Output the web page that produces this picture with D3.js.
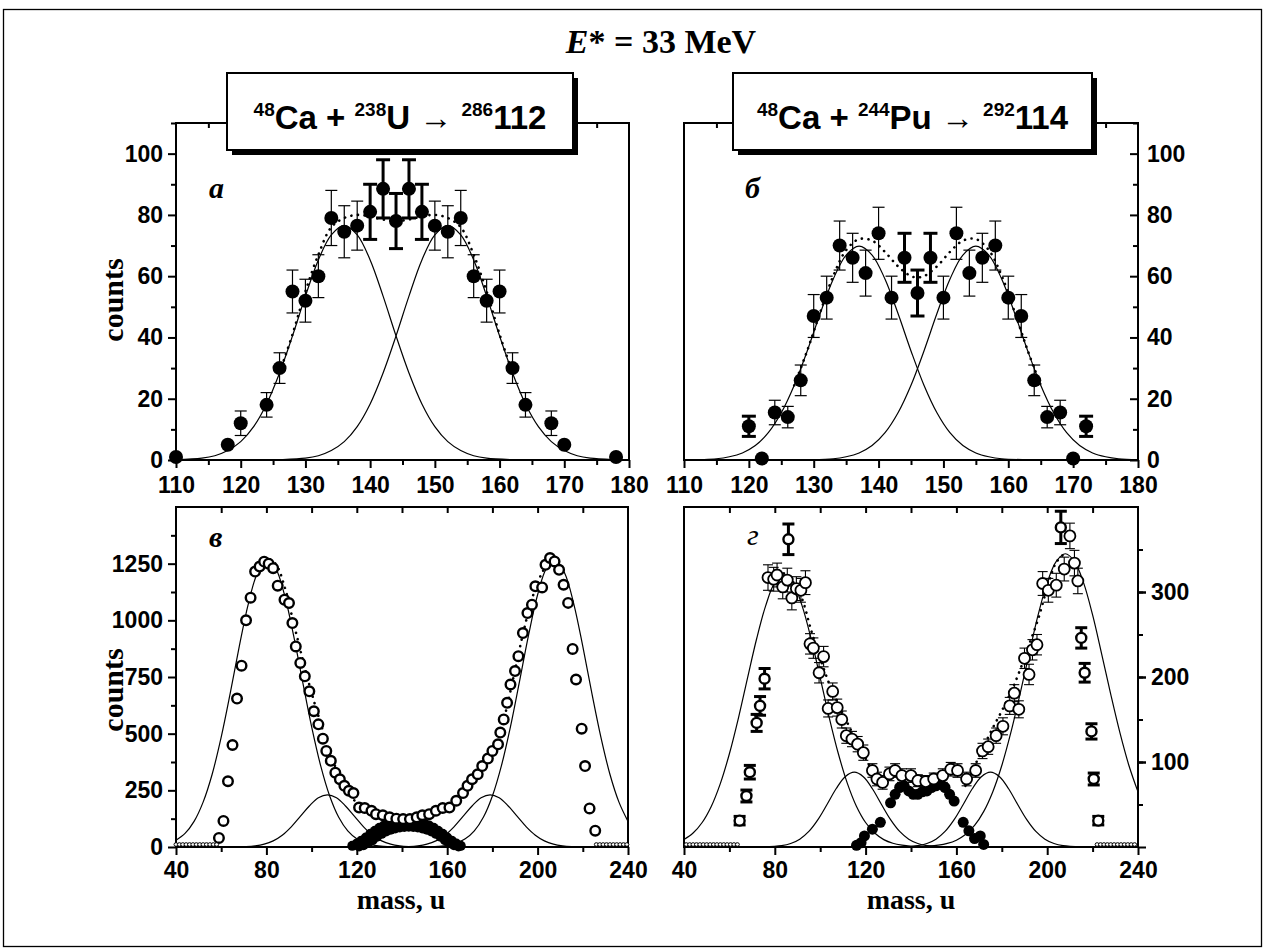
<!DOCTYPE html>
<html><head><meta charset="utf-8">
<script src="https://cdn.jsdelivr.net/npm/d3@7"></script>
<style>body{margin:0;background:#fff}</style>
</head><body>
<svg id="chart" width="1265" height="951"></svg>
<script>
// ---------------- DATA ----------------
const titleText = "E* = 33 MeV";
const reactionA = [["48","Ca + "],["238","U \u2192 "],["286","112"]];
const reactionB = [["48","Ca + "],["244","Pu \u2192 "],["292","114"]];
const panelLetters = ["а","б","в","г"];
const yLabel = "counts", xLabel = "mass, u";

const topXTicks = [110,120,130,140,150,160,170,180];
const topYTicks = [0,20,40,60,80,100];
const botXTicks = [40,80,120,160,200,240];
const cYTicks = [0,250,500,750,1000,1250];
const dYTicks = [100,200,300];

// panel a : [mass, counts, error]
const aSet1 = [[110,1,0],[118,5,0],[120,12,4],[124,18,4],[126,30,5],[128,55,7],[130,52,7],[132,60,7],[134,79,9],[136,74.5,8.5],[138,76.5,8],[150,76.5,8],[152,74.5,8.5],[154,79,9],[156,60,7],[158,52,7],[160,55,7],[162,30,5],[164,18,4],[168,12,4],[170,5,0],[178,1,0]];
const aSet2 = [[140,81,9],[142,88.5,9.5],[144,78,9],[146,88.5,9.5],[148,81,9]];
const aFitLeft = [[110,0.1],[114,0.6],[116,1.4],[118,3.1],[120,6.0],[122,10.9],[124,18.3],[126,28.4],[128,40.5],[130,53.5],[132,65.3],[134,73.5],[136,76.5],[138,73.5],[140,65.3],[142,53.5],[144,40.5],[146,28.4],[148,18.3],[150,10.9],[152,6.0],[154,3.1],[156,1.4],[158,0.6],[162,0.1],[168,0]];
const aFitRight = [[124,0],[126,0.1],[130,0.6],[132,1.4],[134,3.1],[136,6.0],[138,10.9],[140,18.3],[142,28.4],[144,40.5],[146,53.5],[148,65.3],[150,73.5],[152,76.5],[154,73.5],[156,65.3],[158,53.5],[160,40.5],[162,28.4],[164,18.3],[166,10.9],[168,6.0],[170,3.1],[172,1.4],[174,0.6],[178,0.1],[180,0]];
const aFitSum = [[126,28.5],[128,41],[130,55],[132,67],[134,76],[136,79],[138,80],[140,79.5],[142,78.5],[144,78],[146,78.5],[148,79.5],[150,80],[152,79],[154,76],[156,67],[158,55],[160,41],[162,28.5]];

// panel b
const bSet1 = [[122,0.5,0],[124,15.5,4],[126,14,3.5],[128,26,5],[130,47,7],[132,53,7],[134,70,8],[136,66,8],[138,61,7.5],[140,74,8.5],[142,53,7],[150,53,7],[152,74,8.5],[154,61,7.5],[156,66,8],[158,70,8],[160,53,7],[162,47,7],[164,26,5],[166,14,3.5],[168,15.5,4],[170,0.5,0]];
const bSet2 = [[120,11,3.3],[144,66,8],[146,54.5,7.5],[148,66,8],[172,11,3.3]];
const bFitLeft = [[110,0],[115,0.4],[117,1.05],[119,2.3],[121,4.7],[123,8.9],[125,15.4],[127,24.4],[129,35.6],[131,47.8],[133,59.0],[135,66.9],[137,69.8],[139,66.9],[141,59.0],[143,47.8],[145,35.6],[147,24.4],[149,15.4],[151,8.9],[153,4.7],[155,2.3],[157,1.05],[159,0.4],[163,0.1],[170,0]];
const bFitRight = [[122,0],[129,0.1],[133,0.4],[135,1.05],[137,2.3],[139,4.7],[141,8.9],[143,15.4],[145,24.4],[147,35.6],[149,47.8],[151,59.0],[153,66.9],[155,69.8],[157,66.9],[159,59.0],[161,47.8],[163,35.6],[165,24.4],[167,15.4],[169,8.9],[171,4.7],[173,2.3],[175,1.05],[177,0.4],[180,0.1]];
const bFitSum = [[127,24.4],[129,35.7],[131,48.2],[133,60],[135,68.5],[137,72.1],[139,71.6],[141,67.9],[143,63.2],[145,60],[146,59.6],[147,60],[149,63.2],[151,67.9],[153,71.6],[155,72.1],[157,68.5],[159,60],[161,48.2],[163,35.7],[165,24.4]];

// panel c
const cOpen = [[59,40],[61,115],[63,290],[65,450],[67,655],[69,800],[71,1000],[73,1100],[75,1215],[77,1237],[79,1259],[81,1250],[83,1230],[85,1153],[88,1091],[90,1076],[91.5,988],[93,885],[95,812],[97,753],[99,687],[101,599],[103,541],[105,478],[106.5,424],[108.5,380],[110.5,328],[112.5,299],[114.5,270],[116.5,248],[118.5,238],[121,174],[123.5,172],[126.5,160],[128.5,145],[131.5,140],[134.5,131],[137.5,125],[140.5,123],[143.5,123],[146.5,131],[149,140],[152,145],[155,160],[158,172],[161,174],[164,204],[167,238],[169,270],[171,299],[173.5,321],[175.5,357],[178,390],[180,424],[182.5,453],[183.5,505],[185,563],[186.5,636],[188,717],[190,776],[191.5,842],[193.5,944],[195.5,1032],[197.5,1069],[199,1150],[202,1145],[203.5,1245],[205.5,1275],[207.5,1260],[209.5,1223],[211.5,1157],[213.5,1077],[215.5,874],[217,739],[219.5,522],[221,357],[223,170],[225.5,72]];
const cFilledUpper = [[118,5],[120,15],[122,28],[124,42],[126,58],[128,72],[130,85],[132,95],[134,103],[136,108],[138,112],[140,114],[142,115],[144,114],[146,112],[148,108],[150,103],[152,95],[154,85],[156,72],[158,58],[160,42],[162,28],[164,15],[166,5]];
const cFilledLower = [[121,2],[123,8],[125,18],[127,30],[129,45],[131,58],[133,68],[135,76],[137,82],[139,86],[141,88],[143,89],[145,88],[147,86],[149,82],[151,76],[153,68],[155,58],[157,45],[159,30],[161,18],[163,8],[165,2]];
const cZero = [40,41.5,43,44.5,46,47.5,49,50.5,52,53.5,55,56.5,58,226,227.5,229,230.5,232,233.5,235,236.5,238,239.5];
const cFitBigL = [[40,30],[44,60],[48,113],[52,198],[56,321],[60,485],[64,679],[68,885],[72,1073],[76,1208],[80,1264],[84,1230],[88,1113],[92,935],[96,731],[100,531],[104,359],[108,225],[112,131],[116,71],[120,36],[124,17],[128,7],[132,3],[140,0.3],[150,0]];
const cFitBigR = [[138,0],[148,0.3],[156,3],[160,7],[164,17],[168,36],[172,71],[176,131],[180,225],[184,359],[188,531],[192,731],[196,935],[200,1113],[204,1230],[208,1264],[212,1208],[216,1073],[220,885],[224,679],[228,485],[232,321],[236,198],[240,113]];
const cFitSmallL = [[60,0],[63,0.3],[71,1.9],[75,5.1],[79,12.5],[83,27],[87,52],[91,89],[95,135],[99,181],[103,217],[107,230],[111,217],[115,181],[119,135],[123,89],[127,52],[131,27],[135,12.5],[139,5.1],[143,1.9],[150,0.3],[155,0]];
const cFitSmallR = [[133,0],[136,0.3],[143,1.9],[147,5.1],[151,12.5],[155,27],[159,52],[163,89],[167,135],[171,181],[175,217],[179,230],[183,217],[187,181],[191,135],[195,89],[199,52],[203,27],[207,12.5],[211,5.1],[215,1.9],[223,0.3],[228,0]];
const cFitSumL = [[76,1215],[80,1272],[84,1250],[88,1150],[92,990],[96,830],[100,680],[104,545],[108,420],[112,320],[116,250],[120,190]];
const cFitSumR = [[166,220],[170,280],[174,335],[178,390],[182,450],[186,600],[190,780],[194,960],[198,1110],[202,1210],[206,1270],[210,1240]];

// panel d : [mass, counts, error]
const dOpen = [[77,317,15],[79.5,315,14],[81,320,14],[83.5,306,14],[85.5,314,14],[87.5,293,14],[89.5,304,14],[91.5,302,14],[93.5,311,14],[95.5,239,12],[97,234,12],[99.5,205,12],[101.5,224,12],[103.5,163,10],[105.5,183,10],[107.5,164,10],[109.5,150,10],[111.5,131,9],[114,127,9],[116.5,121,9],[119,111,9],[123,90,8],[125,80,8],[127.5,76,8],[130.5,86,8],[133,90,8],[136,84,8],[140,84,8],[143,78,7],[146.5,77,7],[150,80,7],[154,84,8],[157.5,91.5,8],[160.5,90,8],[164.5,80,8],[168.5,90,8],[171.5,113,9],[174,118,9],[177.5,131,9],[180.5,142,10],[183.5,166,10],[185.5,181,10],[187.5,162,10],[190,222,12],[192,203,12],[193.5,232,12],[195.5,238,12],[198,310,14],[200.5,302,14],[204,308,14],[207.5,327,14],[210,366,15],[212,334,15],[213.5,313,15]];
const dOpenTails = [[86,362,18],[206,376,19],[64.5,31,5],[67.5,60,7],[69,88,8],[72,146,10],[73.5,166,11],[75.5,198,12],[215,246,12],[216.5,205,11],[219.5,136,9],[220.5,80,7],[222.5,31,5]];
const dFilled = [[116,2],[118,5],[119.5,13],[123,21],[126.5,29],[131,52],[133,62],[135,70],[137,72],[139,66],[141,62],[143,62],[145,65],[147,66],[149,70],[151,72],[153,74],[155,70],[157,62],[159,54],[163,29],[165.5,19],[168,10],[170.5,13],[172,3]];
const dZero = [41,42.5,44,45.5,47,48.5,50,51.5,53,54.5,56,57.5,59,60.5,62,63.5,222,223.5,225,226.5,228,229.5,231,232.5,234,235.5,237,238.5];
const dFitBigL = [[40,8.7],[44,16.4],[48,28.8],[52,47.7],[56,74.6],[60,109.7],[64,152],[68,199],[72,245],[76,284],[80,311],[84,320],[88,311],[92,284],[96,245],[100,199],[104,152],[108,109.7],[112,74.6],[116,47.7],[120,28.8],[124,16.4],[128,8.7],[132,4.4],[136,2.1],[140,0.9],[148,0.2],[156,0]];
const dFitBigR = [[130,0],[140,0.2],[148,1.0],[152,2.1],[156,4.2],[160,8.0],[164,14.6],[168,25.3],[172,41.6],[176,64.8],[180,95.9],[184,134.8],[188,179.5],[192,227],[196,273],[200,311],[204,336],[208,345],[212,336],[216,311],[220,273],[224,227],[228,179.5],[232,134.8],[236,95.9],[240,64.8]];
const dFitSmallL = [[75,0],[83,1.6],[87,4.1],[91,9.2],[95,18.3],[99,32.2],[103,50],[107,68.5],[111,82.7],[115,88],[119,82.7],[123,68.5],[127,50],[131,32.2],[135,18.3],[139,9.2],[143,4.1],[147,1.6],[155,0]];
const dFitSmallR = [[135,0],[143,1.6],[147,4.1],[151,9.2],[155,18.3],[159,32.2],[163,50],[167,68.5],[171,82.7],[175,88],[179,82.7],[183,68.5],[187,50],[191,32.2],[195,18.3],[199,9.2],[203,4.1],[207,1.6],[215,0]];
const dFitSumL = [[84,322],[88,312],[92,292],[96,255],[100,222],[104,192],[108,168],[112,146],[116,124],[120,104],[124,84]];
const dFitSumR = [[164,72],[168,95],[172,118],[176,140],[180,160],[184,182],[188,208],[192,238],[196,268],[200,305],[204,335],[208,346]];

// ---------------- DRAWING ----------------
const svg = d3.select("#chart");
const NUM_FONT = "'Liberation Sans', Arial, sans-serif";
const SERIF = "'Liberation Serif', 'Times New Roman', serif";

svg.append("rect").attr("x",3.5).attr("y",9.5).attr("width",1258).attr("height",937)
  .attr("fill","none").attr("stroke","#000").attr("stroke-width",1.3);

// title
const tt = svg.append("text").attr("x",661).attr("y",53).attr("text-anchor","middle")
  .attr("font-family",SERIF).attr("font-weight","bold").attr("font-size",34);
tt.append("tspan").attr("font-style","italic").text(titleText.slice(0,1));
tt.append("tspan").text(titleText.slice(1));

function makePanel(px, py, xd, yd) {
  return {x: d3.scaleLinear().domain(xd).range(px), y: d3.scaleLinear().domain(yd).range([py[1], py[0]]), px, py};
}

function axis(gen, scale, tx, ty, values, inner, labels, pad) {
  const g = svg.append("g").attr("transform", `translate(${tx},${ty})`);
  g.call(gen(scale).tickValues(values).tickSizeInner(inner).tickSizeOuter(0).tickPadding(pad||0)
     .tickFormat(labels ? d3.format("d") : () => ""));
  g.select(".domain").remove();
  g.selectAll(".tick line").attr("stroke","#000").attr("stroke-width",2);
  g.selectAll(".tick text").attr("font-family",NUM_FONT).attr("font-weight","bold")
    .attr("font-size",23).attr("fill","#000");
  return g;
}
function range(a,b,s){ return d3.range(a, b + s/2, s); }

function frame(P) {
  svg.append("rect").attr("x",P.px[0]).attr("y",P.py[0]).attr("width",P.px[1]-P.px[0])
    .attr("height",P.py[1]-P.py[0]).attr("fill","none").attr("stroke","#000").attr("stroke-width",2);
}

const line = (P) => d3.line().x(d => P.x(d[0])).y(d => P.y(d[1])).curve(d3.curveCatmullRom);

function curve(P, data, dotted) {
  svg.append("path").attr("d", line(P)(data)).attr("fill","none").attr("stroke","#000")
    .attr("stroke-width", dotted ? 2.6 : 1.2)
    .attr("stroke-dasharray", dotted ? "0.1,6.5" : null)
    .attr("stroke-linecap", dotted ? "round" : "butt");
}

function errPts(P, data, o) {
  const g = svg.append("g");
  data.forEach(d => {
    if (d[2] > 0) {
      const y1 = P.y(d[1]-d[2]), y2 = P.y(d[1]+d[2]), xx = P.x(d[0]);
      g.append("line").attr("x1",xx).attr("x2",xx).attr("y1",y1).attr("y2",y2)
        .attr("stroke","#000").attr("stroke-width",o.ew);
      [y1,y2].forEach(yy => g.append("line").attr("x1",xx-o.cap).attr("x2",xx+o.cap)
        .attr("y1",yy).attr("y2",yy).attr("stroke","#000").attr("stroke-width",o.ew));
    }
  });
  g.selectAll("circle.p").data(data).join("circle")
    .attr("cx",d => P.x(d[0])).attr("cy",d => P.y(d[1])).attr("r",o.r)
    .attr("fill",o.fill).attr("stroke","#000").attr("stroke-width",o.sw);
}

function zeros(P, masses) {
  svg.append("g").selectAll("ellipse").data(masses).join("ellipse")
    .attr("cx",m => P.x(m)).attr("cy",P.y(0)-2.5).attr("rx",2).attr("ry",1.8)
    .attr("fill","#fff").attr("stroke","#000").attr("stroke-width",1);
}

function letter(x, y, t, bold) {
  svg.append("text").attr("x",x).attr("y",y).attr("font-family",SERIF)
    .attr("font-style","italic").attr("font-weight", bold ? "bold" : "normal")
    .attr("font-size",30).text(t);
}

function reactionBox(x0, x1, y0, y1, parts) {
  svg.append("rect").attr("x",x0+5).attr("y",y0+5).attr("width",x1-x0).attr("height",y1-y0).attr("fill","#000");
  svg.append("rect").attr("x",x0).attr("y",y0).attr("width",x1-x0).attr("height",y1-y0)
    .attr("fill","#fff").attr("stroke","#000").attr("stroke-width",2);
  const t = svg.append("text").attr("x",(x0+x1)/2).attr("y",y0+56).attr("text-anchor","middle")
    .attr("font-family",NUM_FONT).attr("font-weight","bold");
  parts.forEach(p => {
    t.append("tspan").attr("font-size",19).attr("dy",-13).text(p[0]);
    t.append("tspan").attr("font-size",33).attr("dy",13).text(p[1]);
  });
}

// ---- panel a ----
const A = makePanel([176,629],[123,460],[110,180],[0,110]);
frame(A);
axis(d3.axisLeft, A.y, 176, 0, topYTicks, 8, true, 5);
axis(d3.axisLeft, A.y, 176, 0, range(10,110,20), 5, false);
axis(d3.axisBottom, A.x, 0, 460, topXTicks, 8, true, 9);
axis(d3.axisBottom, A.x, 0, 460, range(115,175,10), 5, false);
axis(d3.axisBottom, A.x, 0, 123, range(115,175,10), 5, false);
curve(A, aFitLeft); curve(A, aFitRight); curve(A, aFitSum, true);
errPts(A, aSet1, {r:7, fill:"#000", sw:0, ew:1.2, cap:6});
errPts(A, aSet2, {r:7, fill:"#000", sw:0, ew:3, cap:7});
letter(209, 198, panelLetters[0], true);

// ---- panel b ----
const B = makePanel([684,1138],[123,460],[110,180],[0,110]);
frame(B);
axis(d3.axisRight, B.y, 1138, 0, topYTicks, -8, true, 9);
axis(d3.axisRight, B.y, 1138, 0, range(10,110,20), -5, false);
axis(d3.axisBottom, B.x, 0, 460, topXTicks, 8, true, 9);
axis(d3.axisBottom, B.x, 0, 460, range(115,175,10), 5, false);
axis(d3.axisBottom, B.x, 0, 123, range(115,175,10), 5, false);
curve(B, bFitLeft); curve(B, bFitRight); curve(B, bFitSum, true);
errPts(B, bSet1, {r:7, fill:"#000", sw:0, ew:1.2, cap:6});
errPts(B, bSet2, {r:7, fill:"#000", sw:0, ew:3, cap:7});
letter(745, 198, panelLetters[1], true);

// ---- panel c ----
const C = makePanel([176,628],[507,847],[40,240],[0,1500]);
frame(C);
axis(d3.axisLeft, C.y, 176, 0, cYTicks, 8, true, 5);
axis(d3.axisLeft, C.y, 176, 0, range(125,1375,250), 5, false);
axis(d3.axisBottom, C.x, 0, 847, botXTicks, 8, true, 7);
axis(d3.axisBottom, C.x, 0, 847, range(60,220,40), 5, false);
axis(d3.axisBottom, C.x, 0, 507, range(60,220,20), 6, false);
curve(C, cFitBigL); curve(C, cFitBigR); curve(C, cFitSmallL); curve(C, cFitSmallR);
errPts(C, cFilledLower, {r:5, fill:"#000", sw:0, ew:1, cap:0});
errPts(C, cFilledUpper, {r:5, fill:"#000", sw:0, ew:1, cap:0});
curve(C, cFitSumL, true); curve(C, cFitSumR, true);
errPts(C, cOpen.map(d => [d[0], d[1], 0]), {r:4.8, fill:"#fff", sw:2.4, ew:1, cap:0});
zeros(C, cZero);
letter(209, 547, panelLetters[2], true);

// ---- panel d ----
const D = makePanel([684,1138],[507,847],[40,240],[0,400]);
frame(D);
axis(d3.axisRight, D.y, 1138, 0, [0].concat(dYTicks), 8, false, 5);
axis(d3.axisRight, D.y, 1138, 0, dYTicks, 8, true, 5);
axis(d3.axisRight, D.y, 1138, 0, range(50,350,50), 5, false);
axis(d3.axisBottom, D.x, 0, 847, botXTicks, 8, true, 7);
axis(d3.axisBottom, D.x, 0, 847, range(60,220,40), 5, false);
axis(d3.axisBottom, D.x, 0, 507, range(60,220,20), 6, false);
curve(D, dFitBigL); curve(D, dFitBigR); curve(D, dFitSmallL); curve(D, dFitSmallR);
errPts(D, dFilled, {r:5.5, fill:"#000", sw:0, ew:1, cap:0});
curve(D, dFitSumL, true); curve(D, dFitSumR, true);
errPts(D, dOpen, {r:5.5, fill:"#fff", sw:1.8, ew:1.1, cap:5});
errPts(D, dOpenTails, {r:5, fill:"#fff", sw:2.4, ew:3, cap:6});
zeros(D, dZero);
letter(747, 545, panelLetters[3], false);

// ---- boxes & axis titles ----
reactionBox(227, 573, 73, 150, reactionA);
reactionBox(733, 1092, 73, 150, reactionB);

[300, 690].forEach(cy => {
  svg.append("text").attr("transform",`translate(123,${cy}) rotate(-90)`).attr("text-anchor","middle")
    .attr("font-family",SERIF).attr("font-weight","bold").attr("font-size",30).text(yLabel);
});
[401, 911].forEach(cx => {
  svg.append("text").attr("x",cx).attr("y",909).attr("text-anchor","middle")
    .attr("font-family",SERIF).attr("font-weight","bold").attr("font-size",28).text(xLabel);
});
</script>
</body></html>
